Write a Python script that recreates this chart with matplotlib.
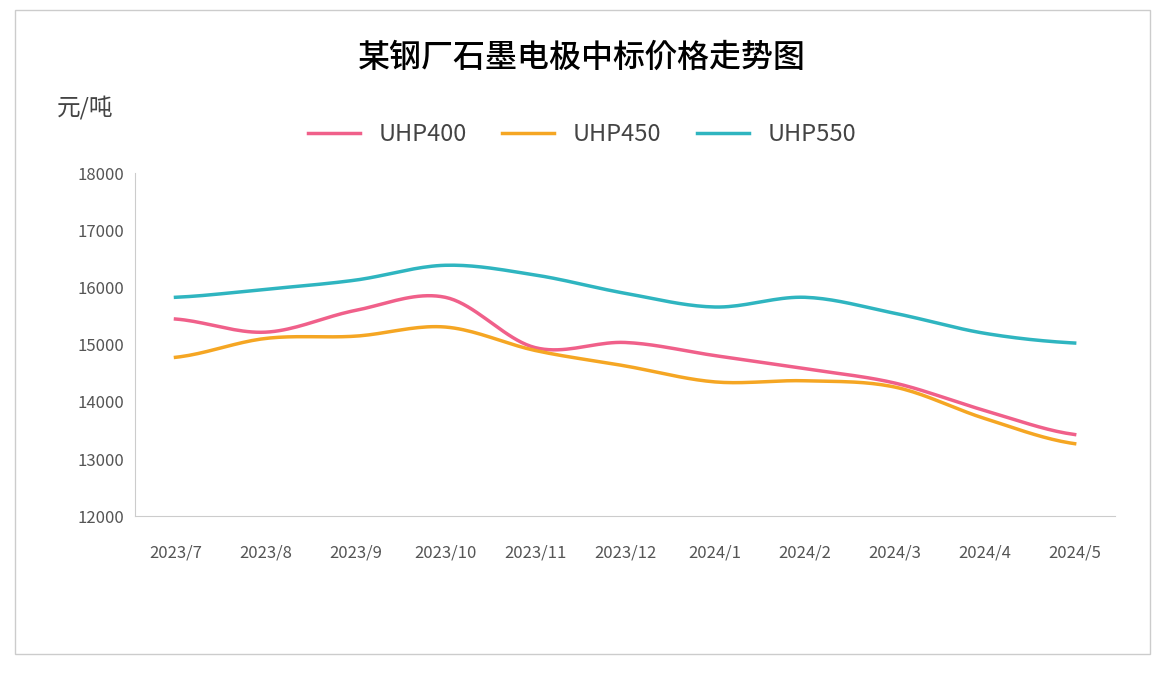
import numpy as np
import matplotlib.pyplot as plt
from matplotlib import font_manager
from matplotlib.patches import Rectangle

# find a sans CJK font file
cjk = None
for f in sorted(font_manager.findSystemFonts()):
    low = f.lower()
    if 'cjk' in low and 'sans' in low:
        try:
            font_manager.fontManager.addfont(f)
        except Exception:
            continue
        if cjk is None:
            cjk = font_manager.FontProperties(fname=f).get_name()
fams = [cjk] if cjk else []
plt.rcParams['font.family'] = fams + ['Noto Sans CJK SC', 'DejaVu Sans']

months = ['2023/7', '2023/8', '2023/9', '2023/10', '2023/11', '2023/12',
          '2024/1', '2024/2', '2024/3', '2024/4', '2024/5']
uhp400 = [15450, 15220, 15600, 15830, 14950, 15040, 14810, 14580, 14330, 13850, 13430]
uhp450 = [14780, 15110, 15150, 15310, 14900, 14630, 14350, 14370, 14260, 13710, 13270]
uhp550 = [15830, 15970, 16130, 16390, 16220, 15900, 15660, 15830, 15550, 15200, 15030]


def smooth(y, n=20):
    # catmull-rom curve through the points, for drawing only
    p = np.array(y, dtype=float)
    p = np.concatenate([[p[0]], p, [p[-1]]])
    xs, ys = [], []
    for i in range(1, len(p) - 2):
        t = np.linspace(0, 1, n, endpoint=False)
        p0, p1, p2, p3 = p[i - 1], p[i], p[i + 1], p[i + 2]
        v = 0.5 * (2 * p1 + (-p0 + p2) * t + (2 * p0 - 5 * p1 + 4 * p2 - p3) * t ** 2
                   + (-p0 + 3 * p1 - 3 * p2 + p3) * t ** 3)
        xs.extend(i - 1 + t)
        ys.extend(v)
    xs.append(len(y) - 1)
    ys.append(y[-1])
    return np.array(xs), np.array(ys)


fig = plt.figure(figsize=(11.64, 6.74), dpi=100)
ax = fig.add_axes([0.116, 0.234, 0.842, 0.509])

series = [('UHP400', uhp400, '#f0608a'), ('UHP450', uhp450, '#f5a623'),
          ('UHP550', uhp550, '#2fb5c0')]
for name, vals, col in series:
    xs, ys = smooth(vals)
    ax.plot(xs, ys, color=col, lw=2.5, label=name)

ax.set_ylim(12000, 18000)
ax.set_yticks(range(12000, 18001, 1000))
ax.set_xlim(-0.45, 10.45)
ax.set_xticks(range(len(months)))
ax.set_xticklabels(months)
ax.tick_params(length=0, labelsize=12, colors='#555555')
ax.tick_params(axis='x', pad=20)
ax.tick_params(axis='y', pad=8)
for s in ['top', 'right']:
    ax.spines[s].set_visible(False)
for s in ['left', 'bottom']:
    ax.spines[s].set_color('#cccccc')

fig.text(0.5, 0.915, '某钢厂石墨电极中标价格走势图', ha='center', va='center',
         fontsize=23, fontweight='medium')
fig.text(0.073, 0.84, '元/吨', ha='center', va='center', fontsize=17, color='#444444')
ax.legend(loc='center', bbox_to_anchor=(0.5, 0.8), bbox_transform=fig.transFigure,
          ncol=3, frameon=False, fontsize=17, handlelength=2.2, columnspacing=1.5,
          labelcolor='#444444')
fig.patches.append(Rectangle((0.013, 0.03), 0.975, 0.955, transform=fig.transFigure,
                             fill=False, edgecolor='#cccccc', lw=1))

fig.savefig('out.png', dpi=100)
